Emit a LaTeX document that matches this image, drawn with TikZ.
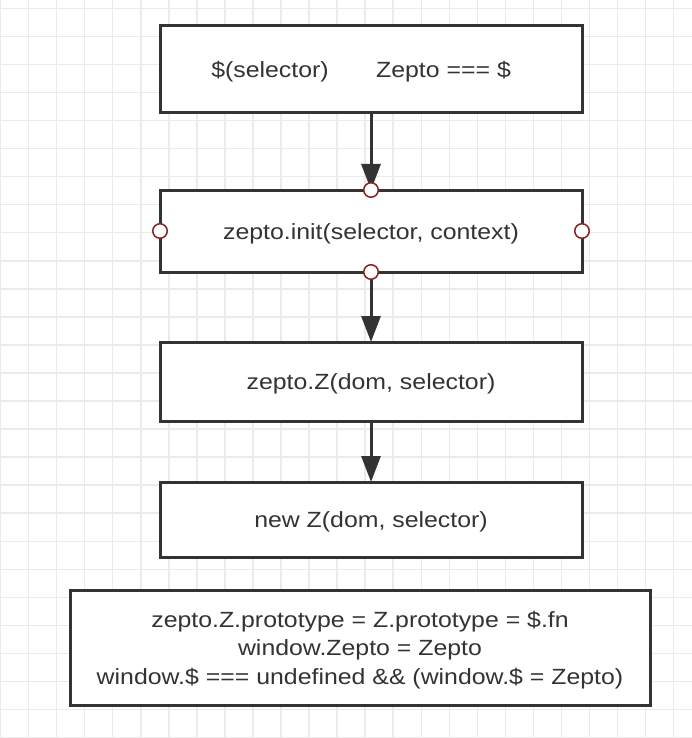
\documentclass[tikz,border=0pt]{standalone}
\usepackage{fontspec}
\setmainfont[FakeStretch=1.13]{Liberation Sans}
\usetikzlibrary{arrows.meta}
\definecolor{ink}{HTML}{333333}
\definecolor{gridc}{HTML}{EBEBEB}
\definecolor{portc}{HTML}{8B2323}
\tikzset{
  box/.style={draw=ink, line width=3pt, fill=white, outer sep=0pt, inner sep=0pt},
  lbl/.style={text=ink, font=\fontsize{22}{28.5}\selectfont, align=center, inner sep=0pt},
  flow/.style={draw=ink, line width=3pt, -{Triangle[length=26pt,width=19pt]}},
  port/.style={circle, draw=portc, line width=1.5pt, fill=white, minimum size=14.5pt, inner sep=0pt}
}
\begin{document}
\begin{tikzpicture}[x=1pt,y=-1pt]
\useasboundingbox (0,0) rectangle (692,738);
\fill[white] (0,0) rectangle (692,738);
% grid
\foreach \k in {0,...,24} {
  \draw[gridc, line width=1.5pt] ({0.5+28.05*\k},0) -- ({0.5+28.05*\k},738);
}
\foreach \k in {0,...,26} {
  \draw[gridc, line width=1.5pt] (0,{8.3+28.05*\k}) -- (692,{8.3+28.05*\k});
}
% boxes
\node[box, minimum width=422pt, minimum height=87pt] (b1) at (371,69.5) {};
\node[box, minimum width=422pt, minimum height=82pt] (b2) at (371,231) {};
\node[box, minimum width=422pt, minimum height=79pt] (b3) at (371,381.5) {};
\node[box, minimum width=422pt, minimum height=75pt] (b4) at (371,519.5) {};
\node[box, minimum width=580pt, minimum height=115pt] (b5) at (360,647.5) {};
% texts
\node[lbl] (t1a) at (270,72) {\$(selector)};
\node[lbl] (t1b) at (443.5,72) {Zepto === \$};
\node[lbl] (t2) at (371,234) {zepto.init(selector, context)};
\node[lbl] (t3) at (371,384) {zepto.Z(dom, selector)};
\node[lbl] (t4) at (371,522) {new Z(dom, selector)};
\node[lbl] (t5) at (360,650) {zepto.Z.prototype = Z.prototype = \$.fn\\window.Zepto = Zepto\\window.\$ === undefined \&\& (window.\$ = Zepto)};
% connectors
\draw[flow] (b1.south) -- (b2.north);
\draw[flow] (b2.south) -- (b3.north);
\draw[flow] (b3.south) -- (b4.north);
% ports
\node[port] (pn) at (b2.north) {};
\node[port] (ps) at (b2.south) {};
\node[port] (pw) at (b2.west) {};
\node[port] (pe) at (b2.east) {};
\end{tikzpicture}
\end{document}
